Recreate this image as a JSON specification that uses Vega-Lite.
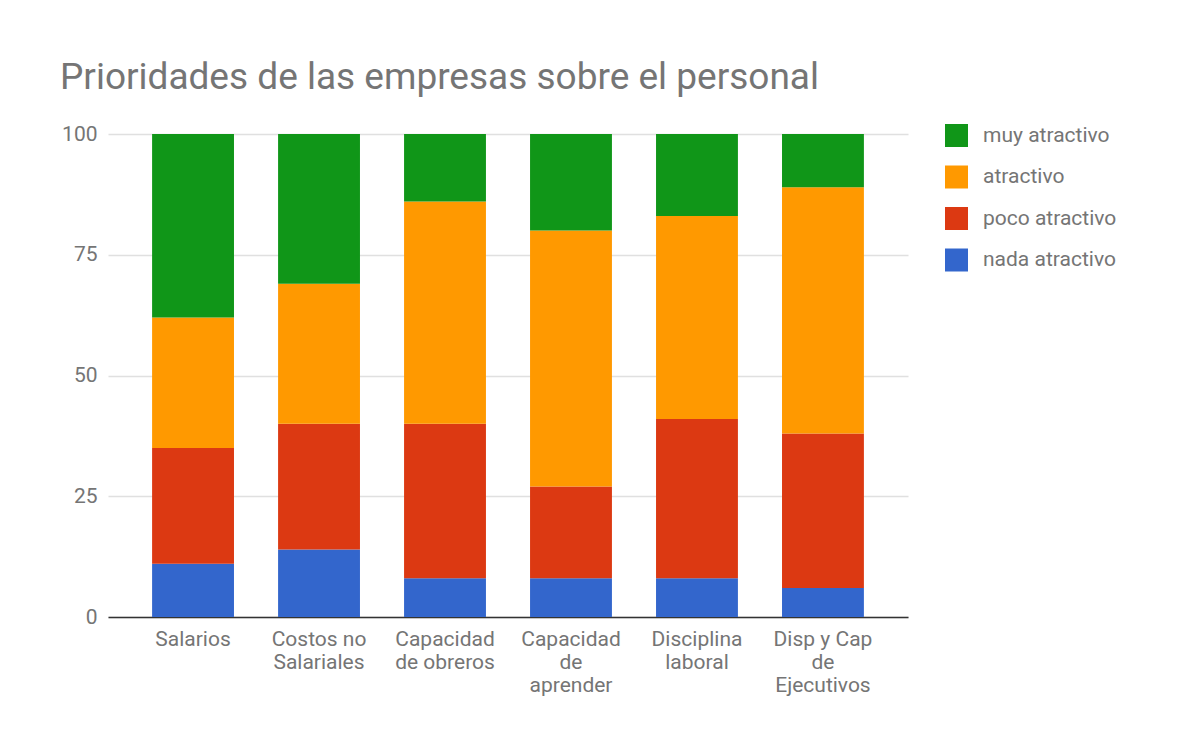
{
  "$schema": "https://vega.github.io/schema/vega-lite/v6.json",
  "autosize": {"type": "none"},
  "width": 800,
  "height": 483,
  "padding": {"left": 108, "top": 134, "right": 270, "bottom": 135},
  "background": "#ffffff",
  "title": {
    "text": "Prioridades de las empresas sobre el personal",
    "anchor": "start",
    "frame": "group",
    "dx": -48,
    "baseline": "alphabetic",
    "offset": -3,
    "font": "Roboto",
    "fontSize": 37,
    "fontWeight": "normal",
    "color": "#757575"
  },
  "data": {
    "values": [
      {"categoria": "Salarios", "nivel": "nada atractivo", "orden": 1, "valor": 11},
      {"categoria": "Salarios", "nivel": "poco atractivo", "orden": 2, "valor": 24},
      {"categoria": "Salarios", "nivel": "atractivo", "orden": 3, "valor": 27},
      {"categoria": "Salarios", "nivel": "muy atractivo", "orden": 4, "valor": 38},
      {"categoria": "Costos no Salariales", "nivel": "nada atractivo", "orden": 1, "valor": 14},
      {"categoria": "Costos no Salariales", "nivel": "poco atractivo", "orden": 2, "valor": 26},
      {"categoria": "Costos no Salariales", "nivel": "atractivo", "orden": 3, "valor": 29},
      {"categoria": "Costos no Salariales", "nivel": "muy atractivo", "orden": 4, "valor": 31},
      {"categoria": "Capacidad de obreros", "nivel": "nada atractivo", "orden": 1, "valor": 8},
      {"categoria": "Capacidad de obreros", "nivel": "poco atractivo", "orden": 2, "valor": 32},
      {"categoria": "Capacidad de obreros", "nivel": "atractivo", "orden": 3, "valor": 46},
      {"categoria": "Capacidad de obreros", "nivel": "muy atractivo", "orden": 4, "valor": 14},
      {"categoria": "Capacidad de aprender", "nivel": "nada atractivo", "orden": 1, "valor": 8},
      {"categoria": "Capacidad de aprender", "nivel": "poco atractivo", "orden": 2, "valor": 19},
      {"categoria": "Capacidad de aprender", "nivel": "atractivo", "orden": 3, "valor": 53},
      {"categoria": "Capacidad de aprender", "nivel": "muy atractivo", "orden": 4, "valor": 20},
      {"categoria": "Disciplina laboral", "nivel": "nada atractivo", "orden": 1, "valor": 8},
      {"categoria": "Disciplina laboral", "nivel": "poco atractivo", "orden": 2, "valor": 33},
      {"categoria": "Disciplina laboral", "nivel": "atractivo", "orden": 3, "valor": 42},
      {"categoria": "Disciplina laboral", "nivel": "muy atractivo", "orden": 4, "valor": 17},
      {"categoria": "Disp y Cap de Ejecutivos", "nivel": "nada atractivo", "orden": 1, "valor": 6},
      {"categoria": "Disp y Cap de Ejecutivos", "nivel": "poco atractivo", "orden": 2, "valor": 32},
      {"categoria": "Disp y Cap de Ejecutivos", "nivel": "atractivo", "orden": 3, "valor": 51},
      {"categoria": "Disp y Cap de Ejecutivos", "nivel": "muy atractivo", "orden": 4, "valor": 11}
    ]
  },
  "mark": {"type": "bar", "stroke": null},
  "encoding": {
    "x": {
      "field": "categoria",
      "type": "nominal",
      "sort": null,
      "scale": {"paddingInner": 0.35, "paddingOuter": 0.35},
      "axis": {
        "title": null,
        "labelAngle": 0,
        "ticks": false,
        "domain": true,
        "domainColor": "#333333",
        "domainWidth": 1.5,
        "labelFont": "Roboto",
        "labelFontSize": 21,
        "labelColor": "#757575",
        "labelPadding": 11,
        "labelLineHeight": 23,
        "labelLimit": 0,
        "labelBaseline": "top",
        "labelExpr": "datum.value == 'Costos no Salariales' ? ['Costos no', 'Salariales'] : datum.value == 'Capacidad de obreros' ? ['Capacidad', 'de obreros'] : datum.value == 'Capacidad de aprender' ? ['Capacidad', 'de', 'aprender'] : datum.value == 'Disciplina laboral' ? ['Disciplina', 'laboral'] : datum.value == 'Disp y Cap de Ejecutivos' ? ['Disp y Cap', 'de', 'Ejecutivos'] : datum.value"
      }
    },
    "y": {
      "field": "valor",
      "type": "quantitative",
      "stack": "zero",
      "scale": {"domain": [0, 100], "nice": false},
      "axis": {
        "title": null,
        "values": [0, 25, 50, 75, 100],
        "ticks": false,
        "domain": false,
        "grid": true,
        "gridColor": "#e0e0e0",
        "gridWidth": 1.5,
        "labelFont": "Roboto",
        "labelFontSize": 21,
        "labelColor": "#757575",
        "labelPadding": 11
      }
    },
    "color": {
      "field": "nivel",
      "type": "nominal",
      "scale": {
        "domain": ["muy atractivo", "atractivo", "poco atractivo", "nada atractivo"],
        "range": ["#109618", "#ff9900", "#dc3912", "#3366cc"]
      },
      "legend": {
        "title": null,
        "orient": "none",
        "legendX": 837,
        "legendY": -10,
        "symbolType": "square",
        "symbolSize": 529,
        "symbolStrokeWidth": 0,
        "labelFont": "Roboto",
        "labelFontSize": 21,
        "labelColor": "#757575",
        "labelOffset": 15,
        "rowPadding": 18.5
      }
    },
    "order": {"field": "orden", "type": "quantitative"}
  },
  "config": {
    "view": {"stroke": null},
    "bar": {"cornerRadius": 0}
  }
}
